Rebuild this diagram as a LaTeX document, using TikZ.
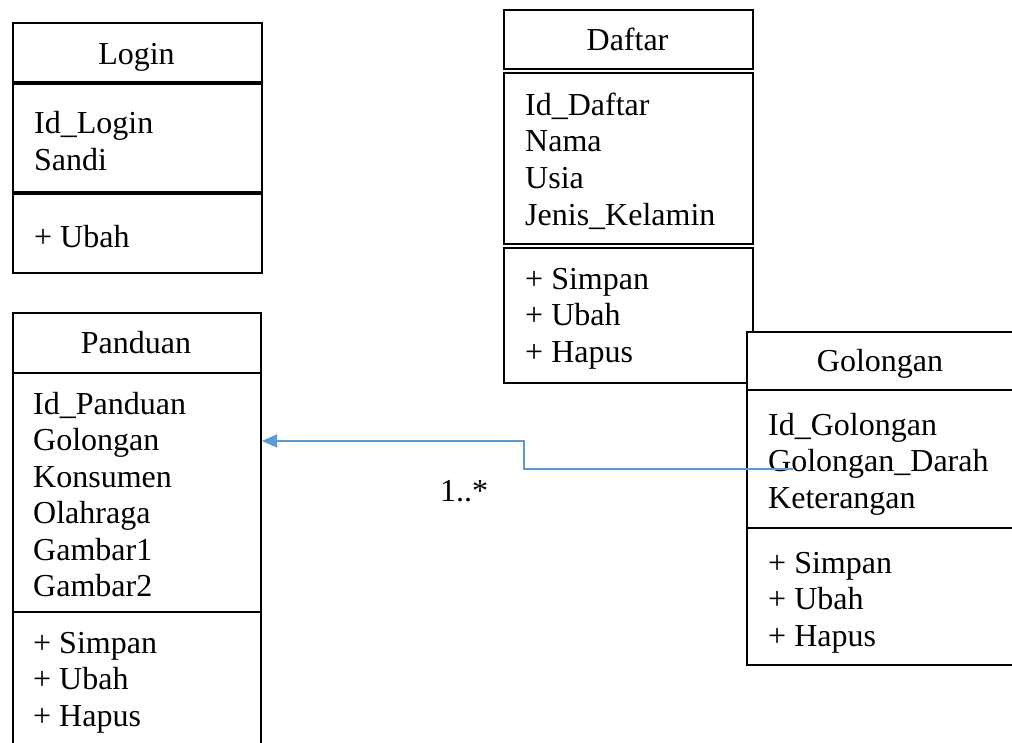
\documentclass[tikz,border=0pt]{standalone}
\usepackage{fontspec}
\setmainfont{Liberation Serif}
\usetikzlibrary{arrows.meta}
\definecolor{assocblue}{HTML}{5B9BD5}
\newcommand\umlfont{\fontsize{32}{36.5}\selectfont}
\tikzset{
  comp/.style={draw, line width=2pt, fill=white, inner sep=0pt, anchor=north west},
  txt/.style={font=\umlfont, anchor=base west, inner sep=0pt},
  ttl/.style={font=\umlfont, anchor=base, inner sep=0pt},
  assoc/.style={draw=assocblue, line width=1.3pt, -{Triangle[length=15pt,width=13pt]}}
}
\begin{document}
\begin{tikzpicture}[x=1pt,y=-1pt]
\useasboundingbox (0,0) rectangle (1012,742);
\fill[white] (0,0) rectangle (1012,742);

% ---------- Login ----------
\node[comp, minimum width=249pt, minimum height=61pt] (logtitle) at (12,22) {};
\node[comp, minimum width=249pt, minimum height=110pt] (logattr) at (12,83) {};
\node[comp, minimum width=249pt, minimum height=79pt] (logmeth) at (12,193) {};
\draw[line width=4pt] (logattr.north west) -- (logattr.north east);
\draw[line width=4pt] (logmeth.north west) -- (logmeth.north east);
\node[ttl] (logt) at (136.5,64) {Login};
\node[txt] (log1) at (34,133) {Id\_Login};
\node[txt] (log2) at (34,170) {Sandi};
\node[txt] (logm1) at (34,247) {+ Ubah};

% ---------- Panduan ----------
\node[comp, minimum width=248pt, minimum height=60pt] (pantitle) at (12,312) {};
\node[comp, minimum width=248pt, minimum height=239pt] (panattr) at (12,372) {};
\node[comp, minimum width=248pt, minimum height=160pt] (panmeth) at (12,611) {};
\node[ttl] (pant) at (136,353) {Panduan};
\foreach \t [count=\i] in {Id\_Panduan, Golongan, Konsumen, Olahraga, Gambar1, Gambar2}
  \node[txt] (pan\i) at (33,{414+36.5*(\i-1)}) {\t};
\foreach \t [count=\i] in {+ Simpan, + Ubah, + Hapus}
  \node[txt] (panm\i) at (33,{653+36.5*(\i-1)}) {\t};

% ---------- Daftar ----------
\node[comp, minimum width=249pt, minimum height=59pt] (daftitle) at (503,9) {};
\node[comp, minimum width=249pt, minimum height=171pt] (dafattr) at (503,72) {};
\node[comp, minimum width=249pt, minimum height=135pt] (dafmeth) at (503,247) {};
\node[ttl] (daft) at (627.5,50) {Daftar};
\foreach \t [count=\i] in {Id\_Daftar, Nama, Usia, Jenis\_Kelamin}
  \node[txt] (daf\i) at (525,{115+36.7*(\i-1)}) {\t};
\foreach \t [count=\i] in {+ Simpan, + Ubah, + Hapus}
  \node[txt] (dafm\i) at (525,{289+36.7*(\i-1)}) {\t};

% ---------- Golongan ----------
\node[comp, minimum width=270pt, minimum height=333pt] (golbox) at (746,331) {};
\draw[line width=2.5pt] (746,390) -- (1016,390);
\draw[line width=2.5pt] (746,528) -- (1016,528);
\node[ttl] (golt) at (880,371) {Golongan};
\foreach \t [count=\i] in {Id\_Golongan, Golongan\_Darah, Keterangan}
  \node[txt] (gol\i) at (768,{435+36.7*(\i-1)}) {\t};
\foreach \t [count=\i] in {+ Simpan, + Ubah, + Hapus}
  \node[txt] (golm\i) at (768,{573+36.7*(\i-1)}) {\t};

% ---------- Association ----------
\coordinate (gstart) at (793,469);
\coordinate (bend) at (524,469);
\draw[assoc] (gstart) -- (bend) |- (panattr.east |- 0,441);
\node[txt] (mult) at (440,501) {1..*};
\end{tikzpicture}
\end{document}
